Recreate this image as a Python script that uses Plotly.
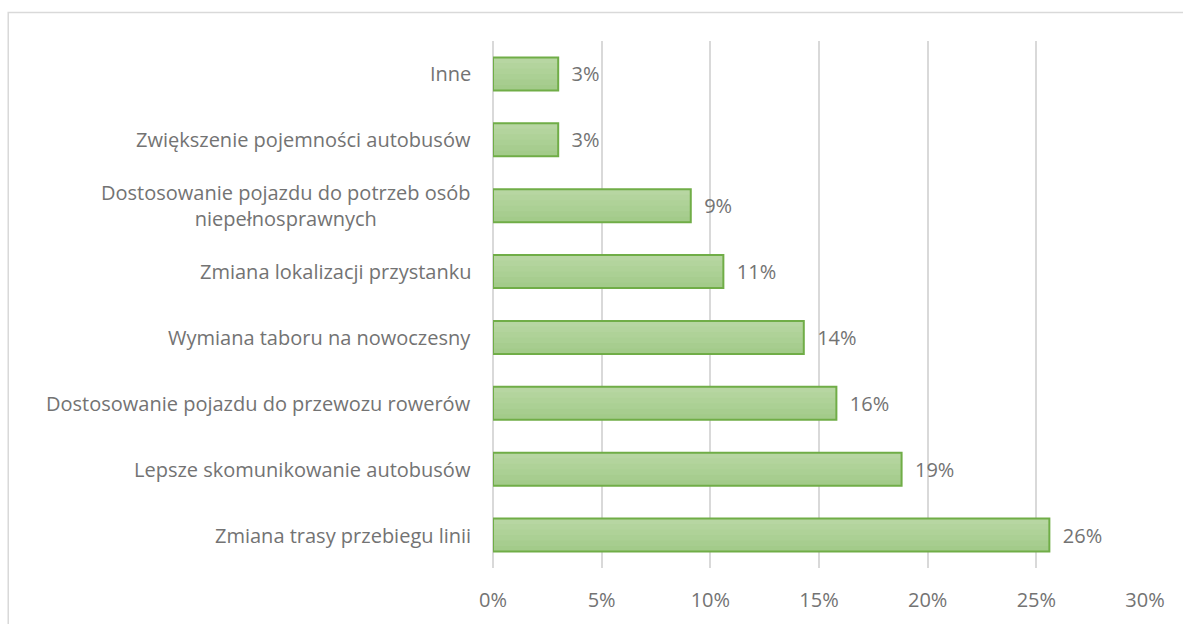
import plotly.graph_objects as go

# Categories listed bottom-to-top as they appear on the chart
categories = [
    "Zmiana trasy przebiegu linii",
    "Lepsze skomunikowanie autobusów",
    "Dostosowanie pojazdu do przewozu rowerów",
    "Wymiana taboru na nowoczesny",
    "Zmiana lokalizacji przystanku",
    "Dostosowanie pojazdu do potrzeb osób<br>niepełnosprawnych",
    "Zwiększenie pojemności autobusów",
    "Inne",
]
shares = [0.256, 0.188, 0.158, 0.143, 0.106, 0.091, 0.030, 0.030]

x_ticks = [0, 0.05, 0.10, 0.15, 0.20, 0.25, 0.30]
x_tick_labels = ["0%", "5%", "10%", "15%", "20%", "25%", "30%"]

TEXT = "#737373"
FONT = "Open Sans"
FSIZE = 20
OUTLINE = "#70ad47"
# darker (bottom) to lighter (top) green used to shade each bar
shade = ["#a3cb8a", "#a7cd8f", "#abd094", "#afd298", "#b3d49d", "#b7d6a2"]

BAR_W = 0.5
fig = go.Figure()

n = len(shade)
step = BAR_W / n
for k, col in enumerate(shade):
    # each layer covers from its band up to the top of the bar
    fig.add_trace(go.Bar(
        y=categories, x=shares, orientation="h",
        base=0,
        offset=-BAR_W / 2 + k * step,
        width=BAR_W - k * step,
        marker=dict(color=col, line=dict(width=0)),
        hoverinfo="skip", showlegend=False,
    ))

fig.add_trace(go.Bar(
    y=categories, x=shares, orientation="h",
    offset=-BAR_W / 2, width=BAR_W,
    marker=dict(color="rgba(0,0,0,0)", line=dict(color=OUTLINE, width=2)),
    texttemplate="\u00a0\u00a0%{x:.0%}",
    textposition="outside",
    textfont=dict(family=FONT, size=FSIZE, color=TEXT),
    cliponaxis=False,
    showlegend=False,
))

for cat in categories:
    fig.add_annotation(
        x=0, xref="paper", y=cat, yref="y",
        text=cat, showarrow=False,
        xanchor="right", yanchor="middle", align="center",
        xshift=-20,
        font=dict(family=FONT, size=FSIZE, color=TEXT),
    )

# outer frame of the chart area
fig.add_shape(
    type="rect", xref="paper", yref="paper",
    x0=-0.7435, x1=1.2, y0=-0.3, y1=1.054,
    line=dict(color="#d9d9d9", width=1.5),
    fillcolor="rgba(0,0,0,0)", layer="below",
)

fig.update_layout(
    width=1183, height=624,
    margin=dict(l=493, r=38, t=41, b=56),
    paper_bgcolor="white", plot_bgcolor="white",
    barmode="overlay",
    font=dict(family=FONT, color=TEXT),
    xaxis=dict(
        range=[0, 0.30], tickvals=x_ticks, ticktext=x_tick_labels,
        showgrid=True, gridcolor="#d9d9d9", gridwidth=1.5,
        zeroline=True, zerolinecolor="#d9d9d9", zerolinewidth=1.5,
        showline=False, ticks="", ticklabelstandoff=18,
        tickfont=dict(family=FONT, size=FSIZE, color=TEXT),
        fixedrange=True,
    ),
    yaxis=dict(
        showticklabels=False, showgrid=False, zeroline=False,
        showline=False, ticks="", fixedrange=True,
        range=[-0.5, len(categories) - 0.5],
    ),
)

fig.write_html("out.html")
